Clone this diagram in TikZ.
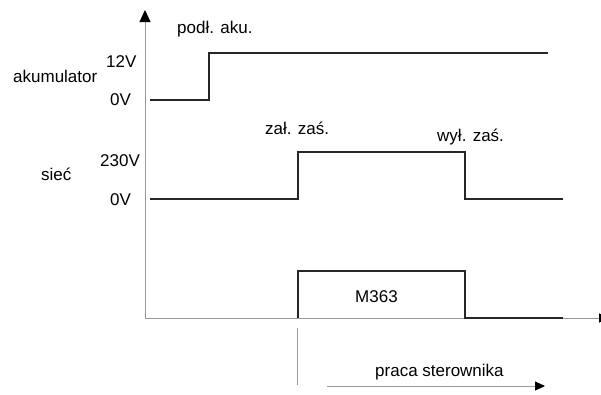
\documentclass[tikz,border=0pt]{standalone}
\usepackage{fontspec}
\setmainfont{Liberation Sans}
\usetikzlibrary{arrows.meta}

\tikzset{
  signal/.style={line width=2pt, color=black!85},
  axis/.style={line width=0.9pt, color=black!40},
  lbl/.style={anchor=base west, inner sep=0pt, font=\fontsize{17}{20}\selectfont},
}

\begin{document}
\begin{tikzpicture}[x=1pt,y=-1pt]
        \useasboundingbox (0,0) rectangle (601,394);
        \clip (0,0) rectangle (601,394);
                % osie
                \draw [axis,-{Triangle[length=12pt,width=11pt,color=black]}](145,318)--(145,10);
                \draw [axis,-{Triangle[length=10pt,width=9pt,color=black]}](145,318)--(609,318);

                % akumulator
                \draw [signal](150,100)--(209,100)--(209,53)--(548,53);
                \node [lbl] (podl) at (177,33) {podł. aku.};
                \node [lbl] (akuH) at (106,67) {12V};
                \node [lbl] (aku) at (13,82) {akumulator};
                \node [lbl] (akuL) at (110,105) {0V};

                % siec
                \draw [signal](150,199)--(298,199)--(298,152)--(465,152)--(465,199)--(563,199);
                \node [lbl] (zal) at (265,134) {zał. zaś.};
                \node [lbl] (wyl) at (437,141) {wył. zaś.};
                \node [lbl] (siecH) at (100,166) {230V};
                \node [lbl] (siec) at (41,180) {sieć};
                \node [lbl] (siecL) at (110,205) {0V};

                % sterownik
                \draw [signal](298,318)--(298,271)--(465,271)--(465,318)--(563,318);
                \node [lbl] (ster) at (355,302) {M363};

                \draw [axis](297,328)--(297,385);
                \draw [axis,-{Triangle[length=10pt,width=9pt,color=black]}](327,386)--(545,386);
                \node [lbl] (praca) at (375,376) {praca sterownika};
\end{tikzpicture}
\end{document}
